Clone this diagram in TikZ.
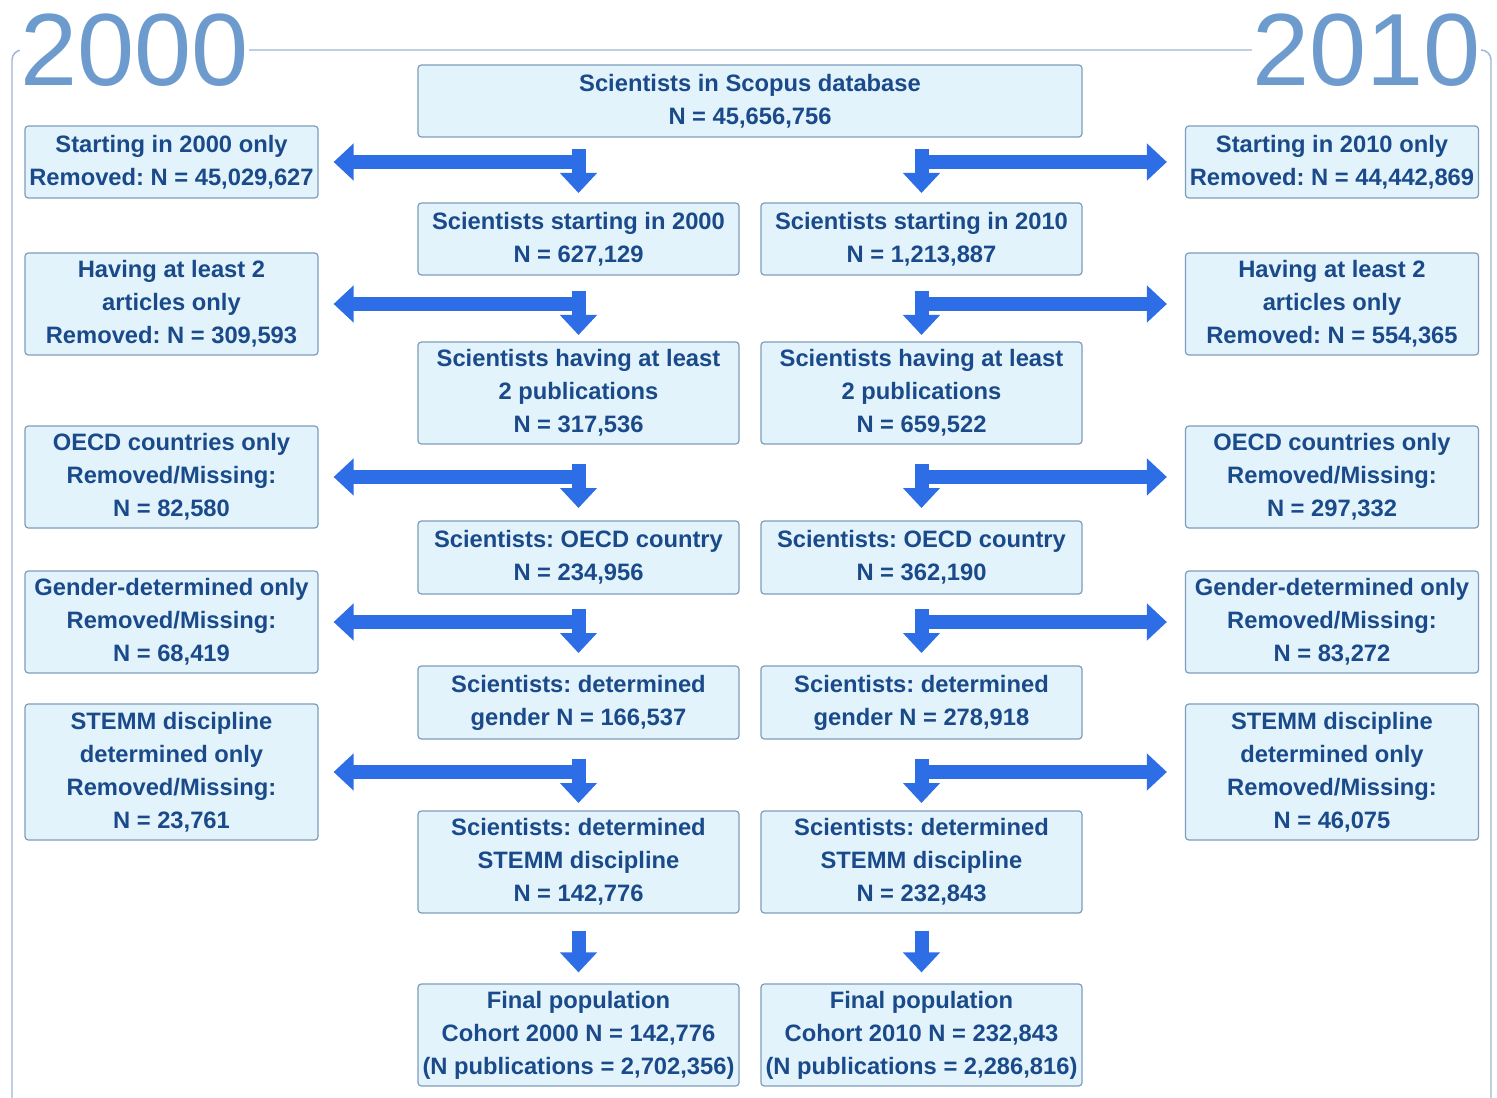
\documentclass[tikz,border=0pt]{standalone}
\usepackage{fontspec}
\setmainfont{Liberation Sans}
\usepackage{xcolor}
\usepackage{tikz}
\usetikzlibrary{arrows.meta,calc}
\frenchspacing

\definecolor{boxfill}{HTML}{E2F3FC}
\definecolor{boxline}{HTML}{7F9DBA}
\definecolor{ink}{HTML}{1A4A8A}
\definecolor{flowblue}{HTML}{2D6DE6}
\definecolor{yearblue}{HTML}{6E9BCD}
\definecolor{frameline}{HTML}{9DB6D3}

\tikzset{
  stagebox/.style={draw=boxline, fill=boxfill, rounded corners=2.5pt, line width=0.9pt,
    text=ink, font=\bfseries\fontsize{17.8}{24.75}\selectfont, align=center, inner sep=1pt},
  dropbox/.style={stagebox, minimum width=219.75pt},
  keptbox/.style={stagebox, minimum width=240.75pt},
  flow/.style={draw=flowblue, line width=10.5pt, -{Triangle[width=27pt,length=15pt]}},
  year/.style={text=yearblue, fill=white, inner sep=0pt, font=\fontsize{77}{77}\selectfont},
}

\begin{document}
\begin{tikzpicture}[x=0.75pt,y=0.75pt,yscale=-1,xscale=1]

\useasboundingbox (0,0) rectangle (1497,1098);

% outer frame with the two cohort years
\draw [frameline, line width=1.1pt, rounded corners=7.5pt] (12,50) rectangle (1491,1112);
\node [year] (y2000) at (134.5,50) {2000};
\node [year] (y2010) at (1366.5,50) {2010};

% source
\node [stagebox, minimum width=498pt, minimum height=54pt] (scopus) at (750,101)
  {Scientists in Scopus database\\N = 45,656,756};

% removed, cohort 2000
\node [dropbox, minimum height=54pt] (out00a) at (171.5,162) {Starting in 2000 only\\Removed: N = 45,029,627};
\node [dropbox, minimum height=76.5pt] (out00b) at (171.5,304) {Having at least 2\\articles only\\Removed: N = 309,593};
\node [dropbox, minimum height=76.5pt] (out00c) at (171.5,477) {OECD countries only\\Removed/Missing:\\N = 82,580};
\node [dropbox, minimum height=76.5pt] (out00d) at (171.5,622) {Gender-determined only\\Removed/Missing:\\N = 68,419};
\node [dropbox, minimum height=102pt] (out00e) at (171.5,772) {STEMM discipline\\determined only\\Removed/Missing:\\N = 23,761};

% removed, cohort 2010
\node [dropbox, minimum height=54pt] (out10a) at (1332,162) {Starting in 2010 only\\Removed: N = 44,442,869};
\node [dropbox, minimum height=76.5pt] (out10b) at (1332,304) {Having at least 2\\articles only\\Removed: N = 554,365};
\node [dropbox, minimum height=76.5pt] (out10c) at (1332,477) {OECD countries only\\Removed/Missing:\\N = 297,332};
\node [dropbox, minimum height=76.5pt] (out10d) at (1332,622) {Gender-determined only\\Removed/Missing:\\N = 83,272};
\node [dropbox, minimum height=102pt] (out10e) at (1332,772) {STEMM discipline\\determined only\\Removed/Missing:\\N = 46,075};

% kept, cohort 2000
\node [keptbox, minimum height=54pt] (sci00a) at (578.5,239) {Scientists starting in 2000\\N = 627,129};
\node [keptbox, minimum height=76.5pt] (sci00b) at (578.5,393) {Scientists having at least\\2 publications\\N = 317,536};
\node [keptbox, minimum height=54.75pt] (sci00c) at (578.5,557.5) {Scientists: OECD country\\N = 234,956};
\node [keptbox, minimum height=54.75pt] (sci00d) at (578.5,702.5) {Scientists: determined\\gender N = 166,537};
\node [keptbox, minimum height=76.5pt] (sci00e) at (578.5,862) {Scientists: determined\\STEMM discipline\\N = 142,776};
\node [keptbox, minimum height=76.5pt] (final00) at (578.5,1035) {Final population\\Cohort 2000 N = 142,776\\(N publications = 2,702,356)};

% kept, cohort 2010
\node [keptbox, minimum height=54pt] (sci10a) at (921.5,239) {Scientists starting in 2010\\N = 1,213,887};
\node [keptbox, minimum height=76.5pt] (sci10b) at (921.5,393) {Scientists having at least\\2 publications\\N = 659,522};
\node [keptbox, minimum height=54.75pt] (sci10c) at (921.5,557.5) {Scientists: OECD country\\N = 362,190};
\node [keptbox, minimum height=54.75pt] (sci10d) at (921.5,702.5) {Scientists: determined\\gender N = 278,918};
\node [keptbox, minimum height=76.5pt] (sci10e) at (921.5,862) {Scientists: determined\\STEMM discipline\\N = 232,843};
\node [keptbox, minimum height=76.5pt] (final10) at (921.5,1035) {Final population\\Cohort 2010 N = 232,843\\(N publications = 2,286,816)};

% split arrows, 2000 side
\draw [flow] (out00a.east -| sci00a.north) -- ($(out00a.east)+(15,0)$);
\draw [flow] ($(out00a.east -| sci00a.north)+(0,-13)$) -- ($(out00a.east -| sci00a.north)+(0,31)$);
\draw [flow] (out00b.east -| sci00b.north) -- ($(out00b.east)+(15,0)$);
\draw [flow] ($(out00b.east -| sci00b.north)+(0,-13)$) -- ($(out00b.east -| sci00b.north)+(0,31)$);
\draw [flow] (out00c.east -| sci00c.north) -- ($(out00c.east)+(15,0)$);
\draw [flow] ($(out00c.east -| sci00c.north)+(0,-13)$) -- ($(out00c.east -| sci00c.north)+(0,31)$);
\draw [flow] (out00d.east -| sci00d.north) -- ($(out00d.east)+(15,0)$);
\draw [flow] ($(out00d.east -| sci00d.north)+(0,-13)$) -- ($(out00d.east -| sci00d.north)+(0,31)$);
\draw [flow] (out00e.east -| sci00e.north) -- ($(out00e.east)+(15,0)$);
\draw [flow] ($(out00e.east -| sci00e.north)+(0,-13)$) -- ($(out00e.east -| sci00e.north)+(0,31)$);
\draw [flow] ($(sci00e.south)+(0,17)$) -- ($(final00.north)+(0,-11)$);

% split arrows, 2010 side
\draw [flow] (out10a.west -| sci10a.north) -- ($(out10a.west)+(-18,0)$);
\draw [flow] ($(out10a.west -| sci10a.north)+(0,-13)$) -- ($(out10a.west -| sci10a.north)+(0,31)$);
\draw [flow] (out10b.west -| sci10b.north) -- ($(out10b.west)+(-18,0)$);
\draw [flow] ($(out10b.west -| sci10b.north)+(0,-13)$) -- ($(out10b.west -| sci10b.north)+(0,31)$);
\draw [flow] (out10c.west -| sci10c.north) -- ($(out10c.west)+(-18,0)$);
\draw [flow] ($(out10c.west -| sci10c.north)+(0,-13)$) -- ($(out10c.west -| sci10c.north)+(0,31)$);
\draw [flow] (out10d.west -| sci10d.north) -- ($(out10d.west)+(-18,0)$);
\draw [flow] ($(out10d.west -| sci10d.north)+(0,-13)$) -- ($(out10d.west -| sci10d.north)+(0,31)$);
\draw [flow] (out10e.west -| sci10e.north) -- ($(out10e.west)+(-18,0)$);
\draw [flow] ($(out10e.west -| sci10e.north)+(0,-13)$) -- ($(out10e.west -| sci10e.north)+(0,31)$);
\draw [flow] ($(sci10e.south)+(0,17)$) -- ($(final10.north)+(0,-11)$);

\end{tikzpicture}
\end{document}
